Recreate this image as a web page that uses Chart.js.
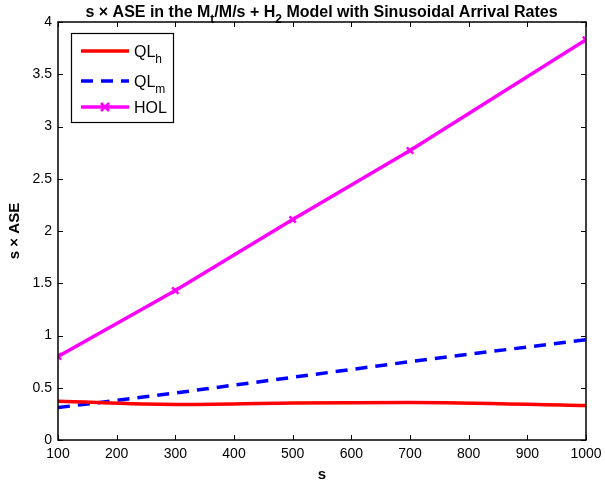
<!DOCTYPE html>
<html>
<head>
<meta charset="utf-8">
<script src="https://cdn.jsdelivr.net/npm/chart.js@4"></script>
<style>
  html, body { margin: 0; padding: 0; background: #fff; }
  #wrap { width: 605px; height: 484px; }
</style>
</head>
<body>
<div id="wrap"><canvas id="c" width="605" height="484"></canvas></div>
<script>
// s x ASE values
const sValues = [100, 300, 500, 700, 1000];
const qlH = [0.37, 0.34, 0.355, 0.36, 0.33];
const qlM = [0.31, 0.45, 0.60, 0.75, 0.96];
const hol = [0.80, 1.43, 2.11, 2.77, 3.83];
const xTicks = [100, 200, 300, 400, 500, 600, 700, 800, 900, 1000];
const yTicks = [0, 0.5, 1, 1.5, 2, 2.5, 3, 3.5, 4];

const FONT = '"Liberation Sans", Arial, Helvetica, sans-serif';

function pts(ys) {
  return sValues.map((s, i) => ({ x: s, y: ys[i] }));
}

// draws text pieces with subscripts, returns total width
function richText(ctx, parts, x, y, size, bold, measureOnly) {
  let cx = x;
  for (const p of parts) {
    const sz = p.sub ? Math.round(size * 0.75) : size;
    ctx.font = (bold ? 'bold ' : '') + sz + 'px ' + FONT;
    if (!measureOnly) ctx.fillText(p.t, cx, y + (p.sub ? size * 0.35 : 0));
    cx += ctx.measureText(p.t).width;
  }
  return cx - x;
}

const matlabFrame = {
  id: 'matlabFrame',
  afterDatasetsDraw(chart) {
    const { ctx, chartArea: a, scales } = chart;
    ctx.save();
    ctx.strokeStyle = '#000';
    ctx.lineWidth = 1;
    ctx.beginPath();
    const tl = 5;
    xTicks.forEach(v => {
      const px = Math.round(scales.x.getPixelForValue(v)) + 0.5;
      ctx.moveTo(px, a.bottom); ctx.lineTo(px, a.bottom - tl);
      ctx.moveTo(px, a.top); ctx.lineTo(px, a.top + tl);
    });
    yTicks.forEach(v => {
      const py = Math.round(scales.y.getPixelForValue(v)) + 0.5;
      ctx.moveTo(a.left, py); ctx.lineTo(a.left + tl, py);
      ctx.moveTo(a.right, py); ctx.lineTo(a.right - tl, py);
    });
    ctx.stroke();
    ctx.lineWidth = 1.5;
    ctx.strokeRect(a.left, a.top, a.right - a.left, a.bottom - a.top);

    // title
    ctx.fillStyle = '#000';
    ctx.textBaseline = 'alphabetic';
    ctx.textAlign = 'left';
    const title = [
      { t: 's \u00d7 ASE in the M' }, { t: 't', sub: true },
      { t: '/M/s + H' }, { t: '2', sub: true },
      { t: ' Model with Sinusoidal Arrival Rates' }
    ];
    const tw = richText(ctx, title, 0, 0, 16, true, true);
    richText(ctx, title, 321.5 - tw / 2, 17, 16, true);

    // axis labels
    ctx.font = 'bold 15px ' + FONT;
    ctx.textAlign = 'center';
    ctx.fillText('s', (a.left + a.right) / 2, 479);
    ctx.save();
    ctx.translate(19, (a.top + a.bottom) / 2);
    ctx.rotate(-Math.PI / 2);
    ctx.fillText('s \u00d7 ASE', 0, 0);
    ctx.restore();

    // legend
    ctx.textAlign = 'left';
    ctx.fillStyle = '#fff';
    ctx.fillRect(71, 33, 102, 89);
    ctx.lineWidth = 1.2;
    ctx.strokeStyle = '#000';
    ctx.strokeRect(71.5, 33.5, 102, 89);
    const items = [
      { ds: chart.data.datasets[0], label: [{ t: 'QL' }, { t: 'h', sub: true }], y: 51 },
      { ds: chart.data.datasets[1], label: [{ t: 'QL' }, { t: 'm', sub: true }], y: 81 },
      { ds: chart.data.datasets[2], label: [{ t: 'HOL' }], y: 107 }
    ];
    items.forEach(it => {
      ctx.strokeStyle = it.ds.borderColor;
      ctx.lineWidth = it.ds.borderWidth;
      ctx.setLineDash(it.ds.borderDash || []);
      ctx.beginPath();
      ctx.moveTo(81, it.y); ctx.lineTo(129, it.y);
      ctx.stroke();
      ctx.setLineDash([]);
      if (it.ds.pointStyle === 'crossRot') {
        const cx = 105, r = 4;
        ctx.lineWidth = 2.5;
        ctx.beginPath();
        ctx.moveTo(cx - r, it.y - r); ctx.lineTo(cx + r, it.y + r);
        ctx.moveTo(cx - r, it.y + r); ctx.lineTo(cx + r, it.y - r);
        ctx.stroke();
      }
      ctx.fillStyle = '#000';
      richText(ctx, it.label, 134, it.y + 6, 16, false);
    });
    ctx.restore();
  }
};

new Chart(document.getElementById('c'), {
  type: 'line',
  data: {
    datasets: [
      { label: 'QLh', data: pts(qlH), borderColor: '#ff0000', borderWidth: 3.5,
        pointRadius: 0, cubicInterpolationMode: 'monotone' },
      { label: 'QLm', data: pts(qlM), borderColor: '#0000ff', borderWidth: 3.5,
        borderDash: [12, 8], pointRadius: 0, tension: 0 },
      { label: 'HOL', data: pts(hol), borderColor: '#ff00ff', borderWidth: 3.5,
        pointStyle: 'crossRot', pointRadius: 4.5, pointBorderWidth: 2.5,
        pointBorderColor: '#ff00ff', pointBackgroundColor: '#ff00ff', tension: 0 }
    ]
  },
  options: {
    responsive: false,
    animation: false,
    layout: { padding: { left: 0, right: 19, top: 22, bottom: 0 } },
    plugins: { legend: { display: false }, title: { display: false }, tooltip: { enabled: false } },
    scales: {
      x: {
        type: 'linear', min: 100, max: 1000,
        afterFit: s => { s.height = 44; s.paddingLeft = 0; s.paddingRight = 0; },
        afterBuildTicks: s => { s.ticks = xTicks.map(v => ({ value: v })); },
        grid: { display: false, drawTicks: false },
        border: { display: false },
        ticks: { padding: 6, color: '#000', autoSkip: false, maxRotation: 0,
          font: { family: FONT, size: 14 }, callback: v => String(v) }
      },
      y: {
        min: 0, max: 4,
        afterFit: s => { s.width = 58; s.paddingTop = 0; s.paddingBottom = 0; },
        afterBuildTicks: s => { s.ticks = yTicks.map(v => ({ value: v })); },
        grid: { display: false, drawTicks: false },
        border: { display: false },
        ticks: { padding: 6, color: '#000', font: { family: FONT, size: 14 },
          callback: v => String(v) }
      }
    }
  },
  plugins: [matlabFrame]
});
</script>
</body>
</html>
